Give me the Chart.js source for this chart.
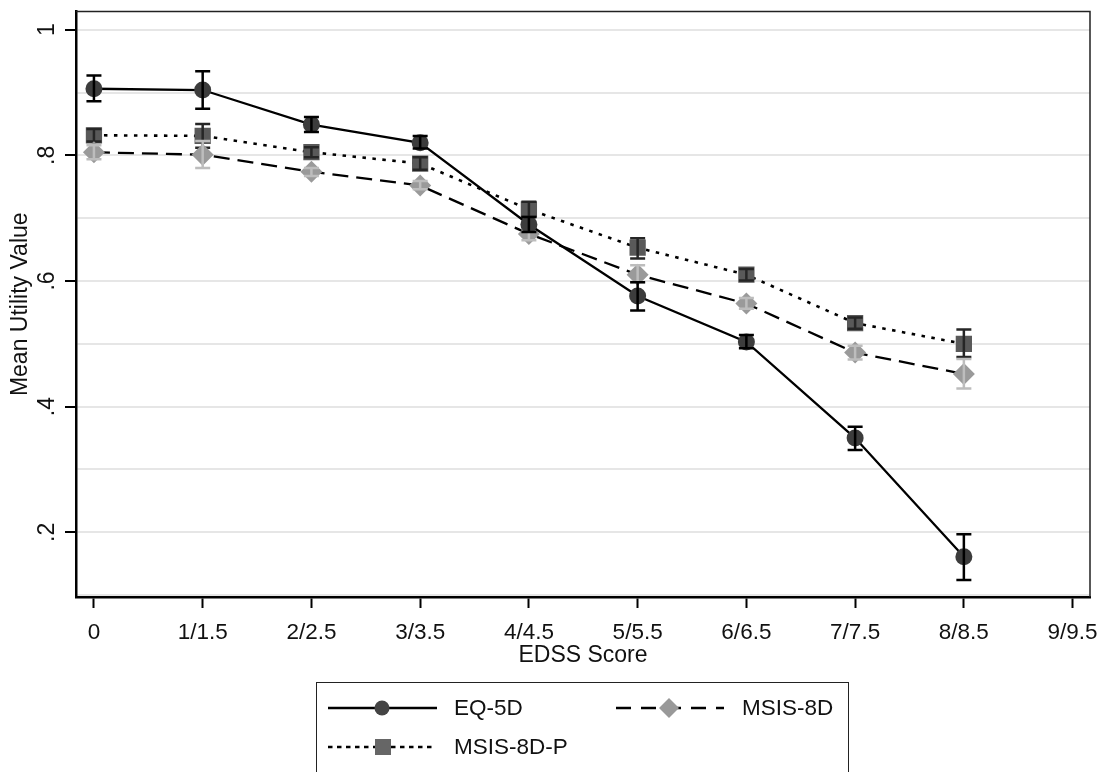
<!DOCTYPE html>
<html>
<head>
<meta charset="utf-8">
<script src="https://cdn.jsdelivr.net/npm/chart.js@4/dist/chart.umd.min.js"></script>
<style>
  html, body { margin: 0; padding: 0; background: #fff; overflow: hidden; }
  #wrap { position: relative; width: 1111px; height: 772px; overflow: hidden; }
  #c { position: absolute; left: 0; top: 0; }
  #legend { position: absolute; left: 316px; top: 682px; width: 533px; height: 110px;
            border: 1.5px solid #222; box-sizing: border-box; }
  .lg { position: absolute; font-family: "Liberation Sans", Arial, sans-serif; font-size: 22.5px; color: #111; line-height: 26px; }
  svg.s { position: absolute; left: 0; top: 0; overflow: visible; }
</style>
</head>
<body>
<div id="wrap">
  <canvas id="c" width="1111" height="772"></canvas>
  <svg class="s" width="1111" height="772" id="lsvg"></svg>
  <div id="legend"></div>
</div>
<script>
// ---- data ----
const xLabels = ['0', '1/1.5', '2/2.5', '3/3.5', '4/4.5', '5/5.5', '6/6.5', '7/7.5', '8/8.5', '9/9.5'];
const seriesNames = ['EQ-5D', 'MSIS-8D', 'MSIS-8D-P'];

const eq5d      = [0.906, 0.904, 0.849, 0.820, 0.690, 0.576, 0.503, 0.350, 0.161];
const eq5dLow   = [0.886, 0.874, 0.837, 0.811, 0.678, 0.553, 0.493, 0.331, 0.124];
const eq5dHigh  = [0.927, 0.934, 0.861, 0.831, 0.702, 0.598, 0.514, 0.368, 0.197];

const msis8d     = [0.805, 0.801, 0.774, 0.752, 0.675, 0.610, 0.564, 0.486, 0.452];
const msis8dLow  = [0.794, 0.780, 0.767, 0.746, 0.665, 0.598, 0.556, 0.475, 0.429];
const msis8dHigh = [0.816, 0.823, 0.780, 0.759, 0.684, 0.625, 0.573, 0.497, 0.476];

const msis8dp     = [0.832, 0.831, 0.805, 0.787, 0.714, 0.653, 0.610, 0.533, 0.500];
const msis8dpLow  = [0.822, 0.812, 0.797, 0.777, 0.702, 0.636, 0.601, 0.524, 0.479];
const msis8dpHigh = [0.842, 0.850, 0.813, 0.797, 0.726, 0.668, 0.619, 0.542, 0.523];

const yTickValues = [0.2, 0.4, 0.6, 0.8, 1.0];
const yTickText   = ['.2', '.4', '.6', '.8', '1'];
const yMinorValues = [0.1, 0.3, 0.5, 0.7, 0.9];

// ---- helpers ----
const toPts = arr => arr.map((v, i) => ({ x: i, y: v }));
const isMajorY = v => yTickValues.some(t => Math.abs(t - v) < 1e-9);
const FONT = '"Liberation Sans", Arial, sans-serif';

const errorBars = {
  id: 'errorBars',
  afterDatasetDraw(chart, args) {
    const ds = chart.data.datasets[args.index];
    if (!ds.errLow) return;
    const { ctx } = chart;
    const xs = chart.scales.x, ys = chart.scales.y;
    ctx.save();
    ctx.strokeStyle = ds.errColor;
    ctx.lineWidth = ds.errWidth;
    ctx.lineCap = 'butt';
    ds.data.forEach((p, i) => {
      const px = xs.getPixelForValue(p.x);
      const yl = ys.getPixelForValue(ds.errLow[i]);
      const yh = ys.getPixelForValue(ds.errHigh[i]);
      const w = 7.5;
      ctx.beginPath();
      ctx.moveTo(px, yl); ctx.lineTo(px, yh);
      ctx.moveTo(px - w, yl); ctx.lineTo(px + w, yl);
      ctx.moveTo(px - w, yh); ctx.lineTo(px + w, yh);
      ctx.stroke();
    });
    ctx.restore();
  }
};

const frame = {
  id: 'frame',
  afterDraw(chart) {
    const { ctx, chartArea: a } = chart;
    ctx.save();
    ctx.strokeStyle = '#222';
    ctx.lineWidth = 1.5;
    ctx.beginPath();
    ctx.moveTo(a.left, a.top); ctx.lineTo(a.right, a.top); ctx.lineTo(a.right, a.bottom);
    ctx.stroke();
    ctx.restore();
  }
};

const datasets = [
  {
    label: seriesNames[0], data: toPts(eq5d), errLow: eq5dLow, errHigh: eq5dHigh,
    errColor: '#000', errWidth: 2.5,
    borderColor: '#000', borderWidth: 2.3, borderDash: [],
    pointStyle: 'circle', pointRadius: 8.5, pointBackgroundColor: '#3c3c3c', pointBorderWidth: 0,
    pointHoverRadius: 8.5
  },
  {
    label: seriesNames[1], data: toPts(msis8d), errLow: msis8dLow, errHigh: msis8dHigh,
    errColor: '#bdbdbd', errWidth: 2.5,
    borderColor: '#000', borderWidth: 2.3, borderDash: [16, 8],
    pointStyle: 'rectRot', pointRadius: 11, pointBackgroundColor: '#9a9a9a', pointBorderWidth: 0,
    pointHoverRadius: 11
  },
  {
    label: seriesNames[2], data: toPts(msis8dp), errLow: msis8dpLow, errHigh: msis8dpHigh,
    errColor: '#262626', errWidth: 2.5,
    borderColor: '#000', borderWidth: 2.6, borderDash: [3.5, 6.5],
    pointStyle: 'rect', pointRadius: 11.5, pointBackgroundColor: '#595959', pointBorderWidth: 0,
    pointHoverRadius: 11.5
  }
];

new Chart(document.getElementById('c'), {
  type: 'line',
  data: { datasets },
  options: {
    responsive: false,
    animation: false,
    events: [],
    layout: { padding: { left: 0, top: 10, right: 21, bottom: 95 } },
    plugins: { legend: { display: false }, tooltip: { enabled: false } },
    elements: { line: { tension: 0, fill: false } },
    scales: {
      x: {
        type: 'linear', min: -0.165, max: 9.16,
        afterBuildTicks: s => { s.ticks = xLabels.map((_, i) => ({ value: i })); },
        afterFit: s => { s.height = 80; s.paddingLeft = 0; s.paddingRight = 0; },
        ticks: { autoSkip: false, includeBounds: false, maxRotation: 0, minRotation: 0,
                 padding: 11, color: '#111', font: { family: FONT, size: 22.5 },
                 callback: v => xLabels[v] },
        grid: { drawOnChartArea: false, drawTicks: true, tickLength: 11, tickColor: '#000', tickWidth: 2 },
        border: { display: true, color: '#000', width: 2.5 },
        title: { display: true, text: 'EDSS Score', color: '#111', font: { family: FONT, size: 23 },
                 padding: { top: 0, bottom: 8 } }
      },
      y: {
        type: 'linear', min: 0.097, max: 1.029,
        afterBuildTicks: s => {
          s.ticks = yTickValues.concat(yMinorValues).sort((a, b) => a - b).map(v => ({ value: v }));
        },
        afterFit: s => { s.width = 76; s.paddingTop = 0; s.paddingBottom = 0; },
        ticks: { autoSkip: false, includeBounds: false, minRotation: 90, maxRotation: 90,
                 crossAlign: 'center', padding: 8, color: '#111', font: { family: FONT, size: 23 },
                 callback: v => {
                   const k = yTickValues.findIndex(t => Math.abs(t - v) < 1e-9);
                   return k >= 0 ? yTickText[k] : '';
                 } },
        grid: { color: '#e6e6e6', lineWidth: 2, drawTicks: true, tickLength: 11, tickWidth: 2,
                tickColor: c => (c.tick && isMajorY(c.tick.value)) ? '#000' : 'rgba(0,0,0,0)' },
        border: { display: true, color: '#000', width: 2.5 },
        title: { display: true, text: 'Mean Utility Value', color: '#111', font: { family: FONT, size: 23 },
                 padding: { top: 7, bottom: 0 } }
      }
    }
  },
  plugins: [errorBars, frame]
});

// ---- legend (HTML + SVG samples) ----
const legendItems = [
  { name: seriesNames[0], x1: 328, x2: 437, cx: 382, cy: 708, dash: '', marker: 'circle', fill: '#444', lx: 454 },
  { name: seriesNames[1], x1: 616, x2: 724, cx: 669, cy: 708, dash: '15,10', marker: 'diamond', fill: '#999', lx: 742 },
  { name: seriesNames[2], x1: 328, x2: 432, cx: 383, cy: 747, dash: '4.5,4.5', marker: 'square', fill: '#666', lx: 454 }
];
const svg = document.getElementById('lsvg');
const NS = 'http://www.w3.org/2000/svg';
legendItems.forEach(it => {
  const ln = document.createElementNS(NS, 'line');
  ln.setAttribute('x1', it.x1); ln.setAttribute('x2', it.x2);
  ln.setAttribute('y1', it.cy); ln.setAttribute('y2', it.cy);
  ln.setAttribute('stroke', '#000'); ln.setAttribute('stroke-width', '2.5');
  if (it.dash) ln.setAttribute('stroke-dasharray', it.dash);
  svg.appendChild(ln);
  let m;
  if (it.marker === 'circle') {
    m = document.createElementNS(NS, 'circle');
    m.setAttribute('cx', it.cx); m.setAttribute('cy', it.cy); m.setAttribute('r', 7.5);
  } else if (it.marker === 'diamond') {
    m = document.createElementNS(NS, 'polygon');
    const r = 10;
    m.setAttribute('points', `${it.cx},${it.cy - r} ${it.cx + r},${it.cy} ${it.cx},${it.cy + r} ${it.cx - r},${it.cy}`);
  } else {
    m = document.createElementNS(NS, 'rect');
    m.setAttribute('x', it.cx - 8); m.setAttribute('y', it.cy - 8);
    m.setAttribute('width', 16); m.setAttribute('height', 16);
  }
  m.setAttribute('fill', it.fill);
  svg.appendChild(m);
  const t = document.createElement('div');
  t.className = 'lg';
  t.textContent = it.name;
  t.style.left = it.lx + 'px';
  t.style.top = (it.cy - 13) + 'px';
  document.getElementById('wrap').appendChild(t);
});
</script>
</body>
</html>
